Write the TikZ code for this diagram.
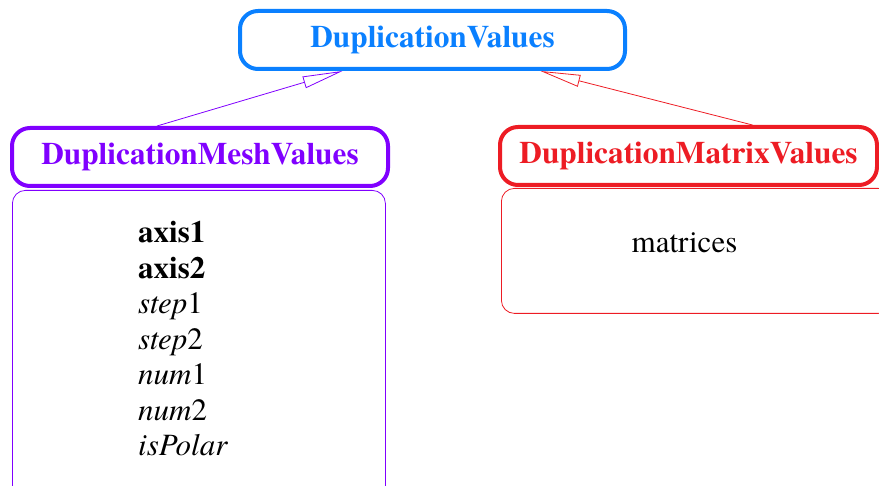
\documentclass[tikz,border=0pt]{standalone}
\usepackage{fontspec}
\setmainfont{texgyretermes}[Extension=.otf, UprightFont=*-regular, BoldFont=*-bold,
  ItalicFont=*-italic, BoldItalicFont=*-bolditalic]
\usetikzlibrary{arrows.meta,calc,positioning}
\definecolor{dvblue}{HTML}{0A80FF}
\definecolor{dvpurple}{HTML}{8000FF}
\definecolor{dvred}{HTML}{ED1C24}
\tikzset{
  dv head/.style={line width=4pt, rounded corners=18pt, fill=white,
    minimum height=58pt, inner sep=0pt, font=\fontsize{31.3}{36}\selectfont\bfseries},
  dv body/.style={line width=0.8pt, rounded corners=13pt, inner sep=0pt},
  dv list/.style={align=left, inner sep=0pt, font=\fontsize{31}{35.5}\selectfont},
  dv arrow/.style={-{Triangle[open,length=40pt,width=12pt]}, line width=0.8pt}
}
\begin{document}
\begin{tikzpicture}[x=1pt, y=-1pt]
  \clip (0,0) rectangle (879,486);
  \useasboundingbox (0,0) rectangle (879,486);
  % parent class
  \node[dv head, draw=dvblue, text=dvblue, minimum width=385pt] (values) at (432.5,40) {DuplicationValues};
  % mesh values
  \node[dv head, draw=dvpurple, text=dvpurple, minimum width=376pt] (meshhead) at (200,157) {DuplicationMeshValues};
  \node[dv body, draw=dvpurple, minimum width=373pt, minimum height=320pt, anchor=north west] (meshbody) at (12,190) {};
  \node[dv list, anchor=north west] (meshlist) at ($(meshbody.north west)+(126,31)$)
    {\textbf{axis1}\\\textbf{axis2}\\\textit{step}1\\\textit{step}2\\\textit{num}1\\\textit{num}2\\\textit{isPolar}};
  % matrix values
  \node[dv head, draw=dvred, text=dvred, minimum width=377pt] (matrixhead) at (688.5,156) {DuplicationMatrixValues};
  \node[dv body, draw=dvred, minimum width=390pt, minimum height=125pt, anchor=north west] (matrixbody) at (501,188) {};
  \node[dv list] (matrixlist) at (684.5,243) {matrices};
  % inheritance
  \draw[dv arrow, draw=dvpurple] ($(meshhead.north)+(-43,0)$) -- ($(values.south)+(-90,0)$);
  \draw[dv arrow, draw=dvred] ($(matrixhead.north)+(64,0)$) -- ($(values.south)+(108,0)$);
\end{tikzpicture}
\end{document}
